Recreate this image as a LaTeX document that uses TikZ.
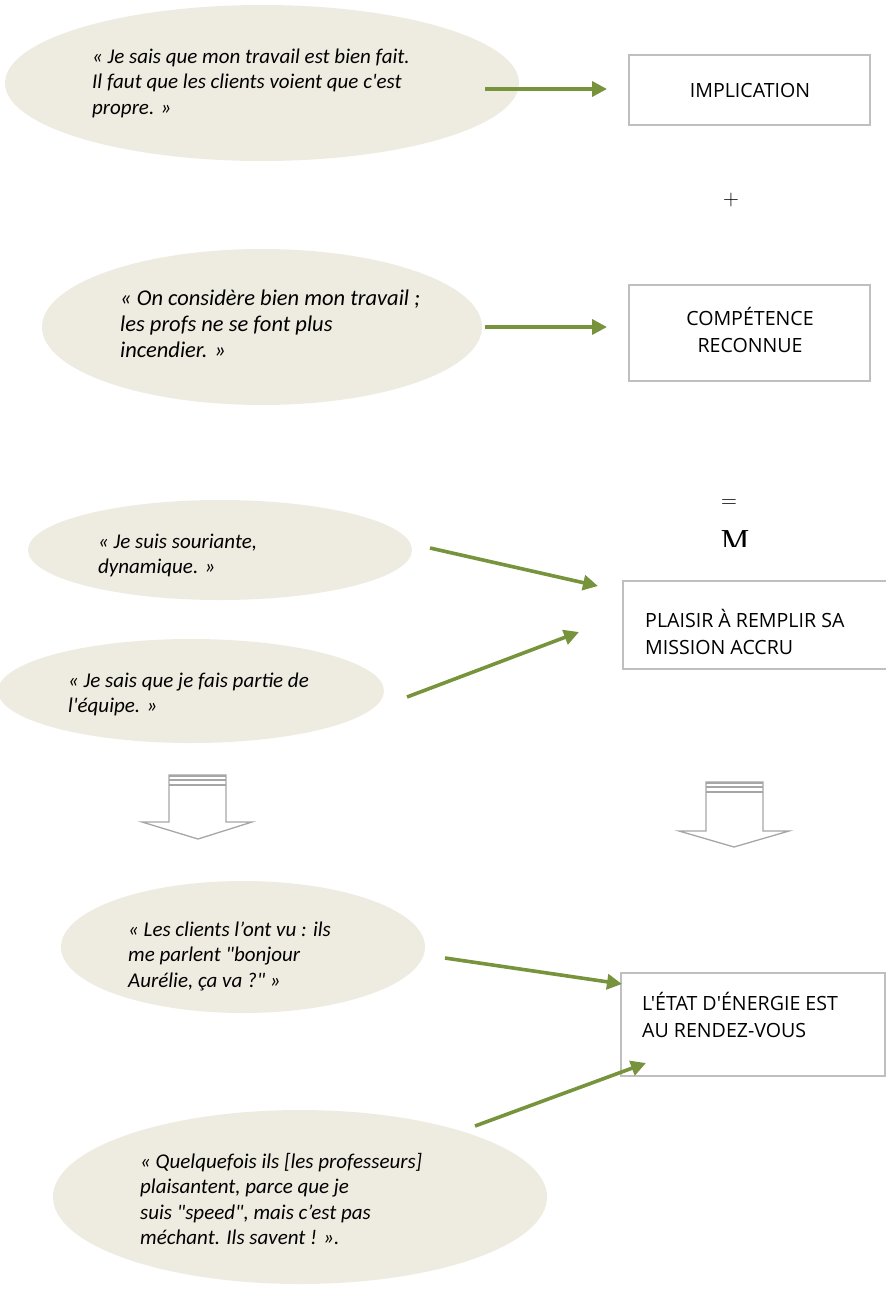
\documentclass[tikz,border=0pt]{standalone}
\usepackage{fontspec}
\setmainfont{Carlito}
\newfontfamily\qfont{Carlito}
\newfontfamily\bfont{Open Sans}
\newfontfamily\lmfont{Latin Modern Roman}
\newfontfamily\tmfont{Liberation Serif}
\usetikzlibrary{shapes.geometric,arrows.meta}
\definecolor{ellfill}{HTML}{EEEBE0}
\definecolor{arrgreen}{HTML}{77933C}
\definecolor{boxgray}{HTML}{BFBFBF}
\definecolor{hollowgray}{HTML}{A6A6A6}
\newcommand{\qstrut}{\rule{0pt}{18pt}}
\newcommand{\bstrut}{\rule{0pt}{20pt}}
\tikzset{
  bubble/.style={ellipse,fill=ellfill,draw=none,inner sep=0pt},
  quote/.style={font=\qfont\fontsize{21}{25.5}\selectfont\itshape,align=left,anchor=north west,inner sep=0pt},
  bigquote/.style={quote,font=\qfont\fontsize{22.5}{26}\selectfont\itshape},
  labelbox/.style={draw=boxgray,line width=1.2pt,fill=white,inner sep=0pt},
  boxtext/.style={font=\bfont\fontsize{19.6}{27}\selectfont,inner sep=0pt},
  greenarrow/.style={draw=arrgreen,line width=3.6pt,-{Triangle[length=15pt,width=15pt]}},
  hollow/.style={draw=hollowgray,line width=1.3pt,fill=white,line join=miter}
}
\begin{document}
\begin{tikzpicture}[x=1pt,y=-1pt]
\useasboundingbox (0,0) rectangle (886,1293);
% bubbles
\node[bubble,minimum width=514pt,minimum height=156pt] (e1) at (262,83) {};
\node[bubble,minimum width=440pt,minimum height=156pt] (e2) at (262,327) {};
\node[bubble,minimum width=384pt,minimum height=100pt] (e3) at (220,550) {};
\node[bubble,minimum width=386pt,minimum height=104pt] (e4) at (191,691) {};
\node[bubble,minimum width=364pt,minimum height=132pt] (e5) at (243,947) {};
\node[bubble,minimum width=494pt,minimum height=174pt] (e6) at (300,1197) {};
% quote texts
\node[quote] (q1) at (92,45) {\qstrut« Je sais que mon travail est bien fait.\\Il faut que les clients voient que c'est\\propre. »};
\node[bigquote] (q2) at (120,287) {\qstrut« On considère bien mon travail ;\\les profs ne se font plus\\incendier. »};
\node[quote] (q3) at (98,530) {\qstrut« Je suis souriante,\\dynamique. »};
\node[quote] (q4) at (68,669) {\qstrut« Je sais que je fais partie de\\l'équipe. »};
\node[quote] (q5) at (128,918) {\qstrut« Les clients l’ont vu : ils\\me parlent "bonjour\\Aurélie, ça va ?" »};
\node[quote] (q6) at (140,1150) {\qstrut« Quelquefois ils [les professeurs]\\plaisantent, parce que je\\suis "speed", mais c’est pas\\méchant. Ils savent ! ».};
% boxes
\draw[labelbox] (629,55) rectangle (870,125);
\node[boxtext,anchor=base] (b1) at (750,97) {IMPLICATION};
\draw[labelbox] (629,285) rectangle (870,381);
\node[boxtext,align=center,anchor=north] (b2) at (750,305) {\bstrut COMPÉTENCE\\RECONNUE};
% M partly hidden
\begin{scope}
\clip (700,520) rectangle (780,546);
\node[font=\tmfont\fontsize{32}{32}\selectfont,anchor=north,inner sep=0pt] (mm) at (735,530) {M};
\end{scope}
\draw[labelbox] (623,581) rectangle (900,669);
\node[boxtext,align=left,anchor=north west] (b3) at (645,607) {\bstrut PLAISIR À REMPLIR SA\\MISSION ACCRU};
\draw[labelbox] (621,973) rectangle (885,1076);
\node[boxtext,align=left,anchor=north west] (b4) at (642,990) {\bstrut L'ÉTAT D'ÉNERGIE EST\\AU RENDEZ-VOUS};
% symbols
\node[font=\lmfont\fontsize{22}{22}\selectfont,inner sep=0pt] (plus) at (731,200) {+};
\node[font=\lmfont\fontsize{22}{22}\selectfont,inner sep=0pt] (eq) at (729,504) {=};
% arrow coordinates
\coordinate (a1s) at (485,89); \coordinate (a1e) at (607,89);
\coordinate (a2s) at (485,327); \coordinate (a2e) at (607,327);
\coordinate (a3s) at (430,548); \coordinate (a3e) at (598,586);
\coordinate (a4s) at (407,697); \coordinate (a4e) at (579,632);
\coordinate (a5s) at (445,958); \coordinate (a5e) at (622,984);
\coordinate (a6s) at (475,1126); \coordinate (a6e) at (646,1063);
\draw[greenarrow] (a1s) -- (a1e);
\draw[greenarrow] (a2s) -- (a2e);
\draw[greenarrow] (a3s) -- (a3e);
\draw[greenarrow] (a4s) -- (a4e);
\draw[greenarrow] (a5s) -- (a5e);
\draw[greenarrow] (a6s) -- (a6e);
% hollow down arrows
\draw[hollow] (169,775) -- (226,775) -- (226,822) -- (252,822) -- (198,839) -- (142,822) -- (169,822) -- cycle;
\draw[hollowgray,line width=1.3pt] (169,780) -- (226,780) (169,785) -- (226,785);
\draw[hollowgray,line width=2pt] (169,775.5) -- (226,775.5);
\draw[hollow] (706,782) -- (763,782) -- (763,831) -- (789,831) -- (734,847) -- (679,831) -- (706,831) -- cycle;
\draw[hollowgray,line width=1.3pt] (706,787) -- (763,787) (706,792) -- (763,792);
\draw[hollowgray,line width=2pt] (706,782.5) -- (763,782.5);
\end{tikzpicture}
\end{document}
